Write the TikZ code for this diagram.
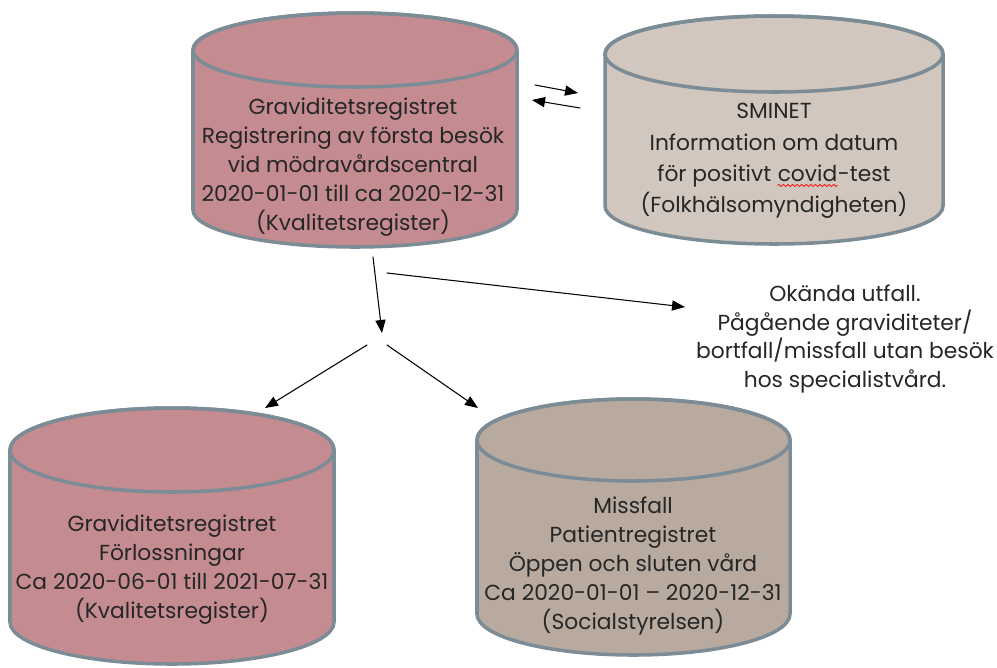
\documentclass[tikz,border=0pt]{standalone}
\usepackage{fontspec}
\setmainfont{Poppins}
\usetikzlibrary{arrows.meta,decorations.pathmorphing}
\definecolor{regpink}{RGB}{196,139,144}
\definecolor{regbeige}{RGB}{209,199,190}
\definecolor{regbrown}{RGB}{184,170,158}
\definecolor{regedge}{RGB}{124,140,150}
\definecolor{regtext}{RGB}{38,38,38}
\begin{document}
\begin{tikzpicture}[x=0.02cm,y=0.02cm,font=\fontsize{12.4}{16.5}\selectfont,line join=round,line cap=round,>={Triangle[length=7.4pt,width=5.8pt]}]
	\tikzset{every node/.style={text=regtext,align=center},
		regbox/.style={draw=regedge,line width=2pt},
		flow/.style={->,line width=0.6pt}}
	\useasboundingbox (0,0) rectangle (997,-667);
	% cylinders: left/right edge, top and bottom centre, y radius, fill
	\foreach \l/\r/\t/\b/\ry/\c in {193/517/50/210/37/regpink,605/943/54/206/38/regbeige,10/334/450/622/42/regpink,477/790/440/614/41/regbrown}{
		\pgfmathsetmacro{\rx}{(\r-\l)/2}
		\filldraw[regbox,fill=\c] (\l,-\t)--(\l,-\b) arc[start angle=180,end angle=360,x radius=\rx,y radius=\ry]--(\r,-\t) arc[start angle=0,end angle=180,x radius=\rx,y radius=\ry]--cycle;
		\draw[regbox] (\l+\rx,-\t) ellipse [x radius=\rx,y radius=\ry];
	}
	\node (grav) at (353,-167) {Graviditetsregistret\\Registrering av första besök\\vid mödravårdscentral\\2020-01-01 till ca 2020-12-31\\(Kvalitetsregister)};
	\node[font=\fontsize{12.4}{17.8}\selectfont] (sminet) at (774,-161) {SMINET\\Information om datum\\för positivt \tikz[baseline=(cv.base)]{\node[inner sep=0pt] (cv) {covid}; \draw[red,line width=0.4pt,decorate,decoration={snake,amplitude=0.6pt,segment length=2.6pt}] ([yshift=-2pt]cv.south west)--([yshift=-2pt]cv.south east);}-test\\(Folkhälsomyndigheten)};
	\node (forl) at (172,-570) {Graviditetsregistret\\Förlossningar\\Ca 2020-06-01 till 2021-07-31\\(Kvalitetsregister)};
	\node (missf) at (633,-566) {Missfall\\Patientregistret\\Öppen och sluten vård\\Ca 2020-01-01 – 2020-12-31\\(Socialstyrelsen)};
	\node (okand) at (845,-339) {Okända utfall.\\Pågående graviditeter/\\bortfall/missfall utan besök\\hos specialistvård.};
	% arrow ends
	\coordinate (p1) at (535,-85);
	\coordinate (p2) at (578,-93);
	\coordinate (p3) at (580,-108);
	\coordinate (p4) at (532,-100);
	\coordinate (down) at (373,-257);
	\coordinate (split) at (382,-333);
	\coordinate (side) at (387,-273);
	\coordinate (sideend) at (685,-307);
	\coordinate (lgo) at (367,-345);
	\coordinate (lend) at (265,-408);
	\coordinate (rgo) at (387,-345);
	\coordinate (rend) at (478,-408);
	\draw[flow] (p1)--(p2);
	\draw[flow] (p3)--(p4);
	\draw[flow] (down)--(split);
	\draw[flow] (side)--(sideend);
	\draw[flow] (lgo)--(lend);
	\draw[flow] (rgo)--(rend);
\end{tikzpicture}
\end{document}
